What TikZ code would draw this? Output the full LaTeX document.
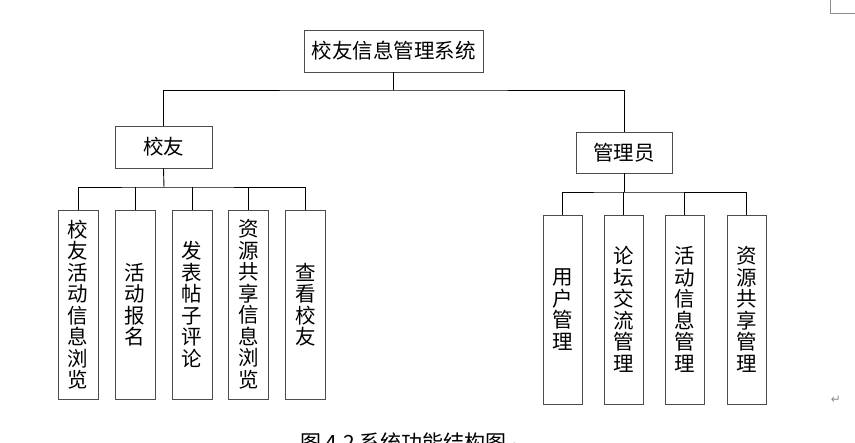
\documentclass[tikz,border=0pt]{standalone}
\usepackage{fontspec}
\newfontfamily\cjk{Noto Sans CJK SC}
\newfontfamily\symfont{DejaVu Sans}
\begin{document}
\begin{tikzpicture}[x=1pt,y=-1pt,
  box/.style={draw=black!70,line width=0.9pt,inner sep=0pt,font=\cjk\fontsize{20.5}{21.5}\selectfont},
  vbox/.style={box,minimum width=39pt,minimum height=189pt,align=center},
  conn/.style={draw=black,line width=0.9pt},
  retmark/.style={text=black!45,font=\symfont\fontsize{12}{12}\selectfont,inner sep=0pt}]
\useasboundingbox (0,0) rectangle (855,443);
\clip (0,0) rectangle (855,443);
% top
\node[box,minimum width=179pt,minimum height=42pt] (top) at (393.5,51) {校友信息管理系统};
\node[box,minimum width=97pt,minimum height=42pt] (xy) at (163.5,147) {校友};
\node[box,minimum width=96pt,minimum height=41pt] (gl) at (624,152.5) {管理员};
\coordinate (busT) at (393.5,90);
\coordinate (busL) at (164,187);
\coordinate (busR) at (624,192);
\draw[conn] (top.south) -- (busT);
\draw[conn] (xy.north) |- (busT) -| (gl.north);
% left children
\node[vbox,minimum width=40pt] (l1) at (78,304.5) {校\\友\\活\\动\\信\\息\\浏\\览};
\node[vbox,minimum width=40pt] (l2) at (135,304.5) {活\\动\\报\\名};
\node[vbox,minimum width=40pt] (l3) at (192,304.5) {发\\表\\帖\\子\\评\\论};
\node[vbox,minimum width=40pt] (l4) at (248.5,304.5) {资\\源\\共\\享\\信\\息\\浏\\览};
\node[vbox,minimum width=40pt] (l5) at (305.5,304.5) {查\\看\\校\\友};
\draw[conn] (xy.south) -- (busL);
\draw[conn] (l1.north) |- (busL) -| (l5.north);
\foreach \n in {l2,l3,l4} \draw[conn] (\n.north) -- (\n.north |- busL);
% right children
\node[vbox] (r1) at (562.5,309.5) {用\\户\\管\\理};
\node[vbox] (r2) at (623.5,309.5) {论\\坛\\交\\流\\管\\理};
\node[vbox] (r3) at (684.5,309.5) {活\\动\\信\\息\\管\\理};
\node[vbox] (r4) at (746.5,309.5) {资\\源\\共\\享\\管\\理};
\draw[conn] (gl.south) -- (busR);
\draw[conn] (r1.north) |- (busR) -| (r4.north);
\foreach \n in {r2,r3} \draw[conn] (\n.north) -- (\n.north |- busR);
% caption (cut off at the bottom, as in the reference)
\node[anchor=base west,inner sep=0pt,font=\cjk\fontsize{21}{22}\selectfont] (cap) at (300,451) {图 4.2 系统功能结构图};
\node[retmark,anchor=base west] (capmark) at (cap.base east) {↵};
% page marks
\node[retmark] (pmark) at (836,400) {↵};
\draw[black!45,line width=0.8pt] (830,0) -- (830,13) -- (855,13);
\end{tikzpicture}
\end{document}
